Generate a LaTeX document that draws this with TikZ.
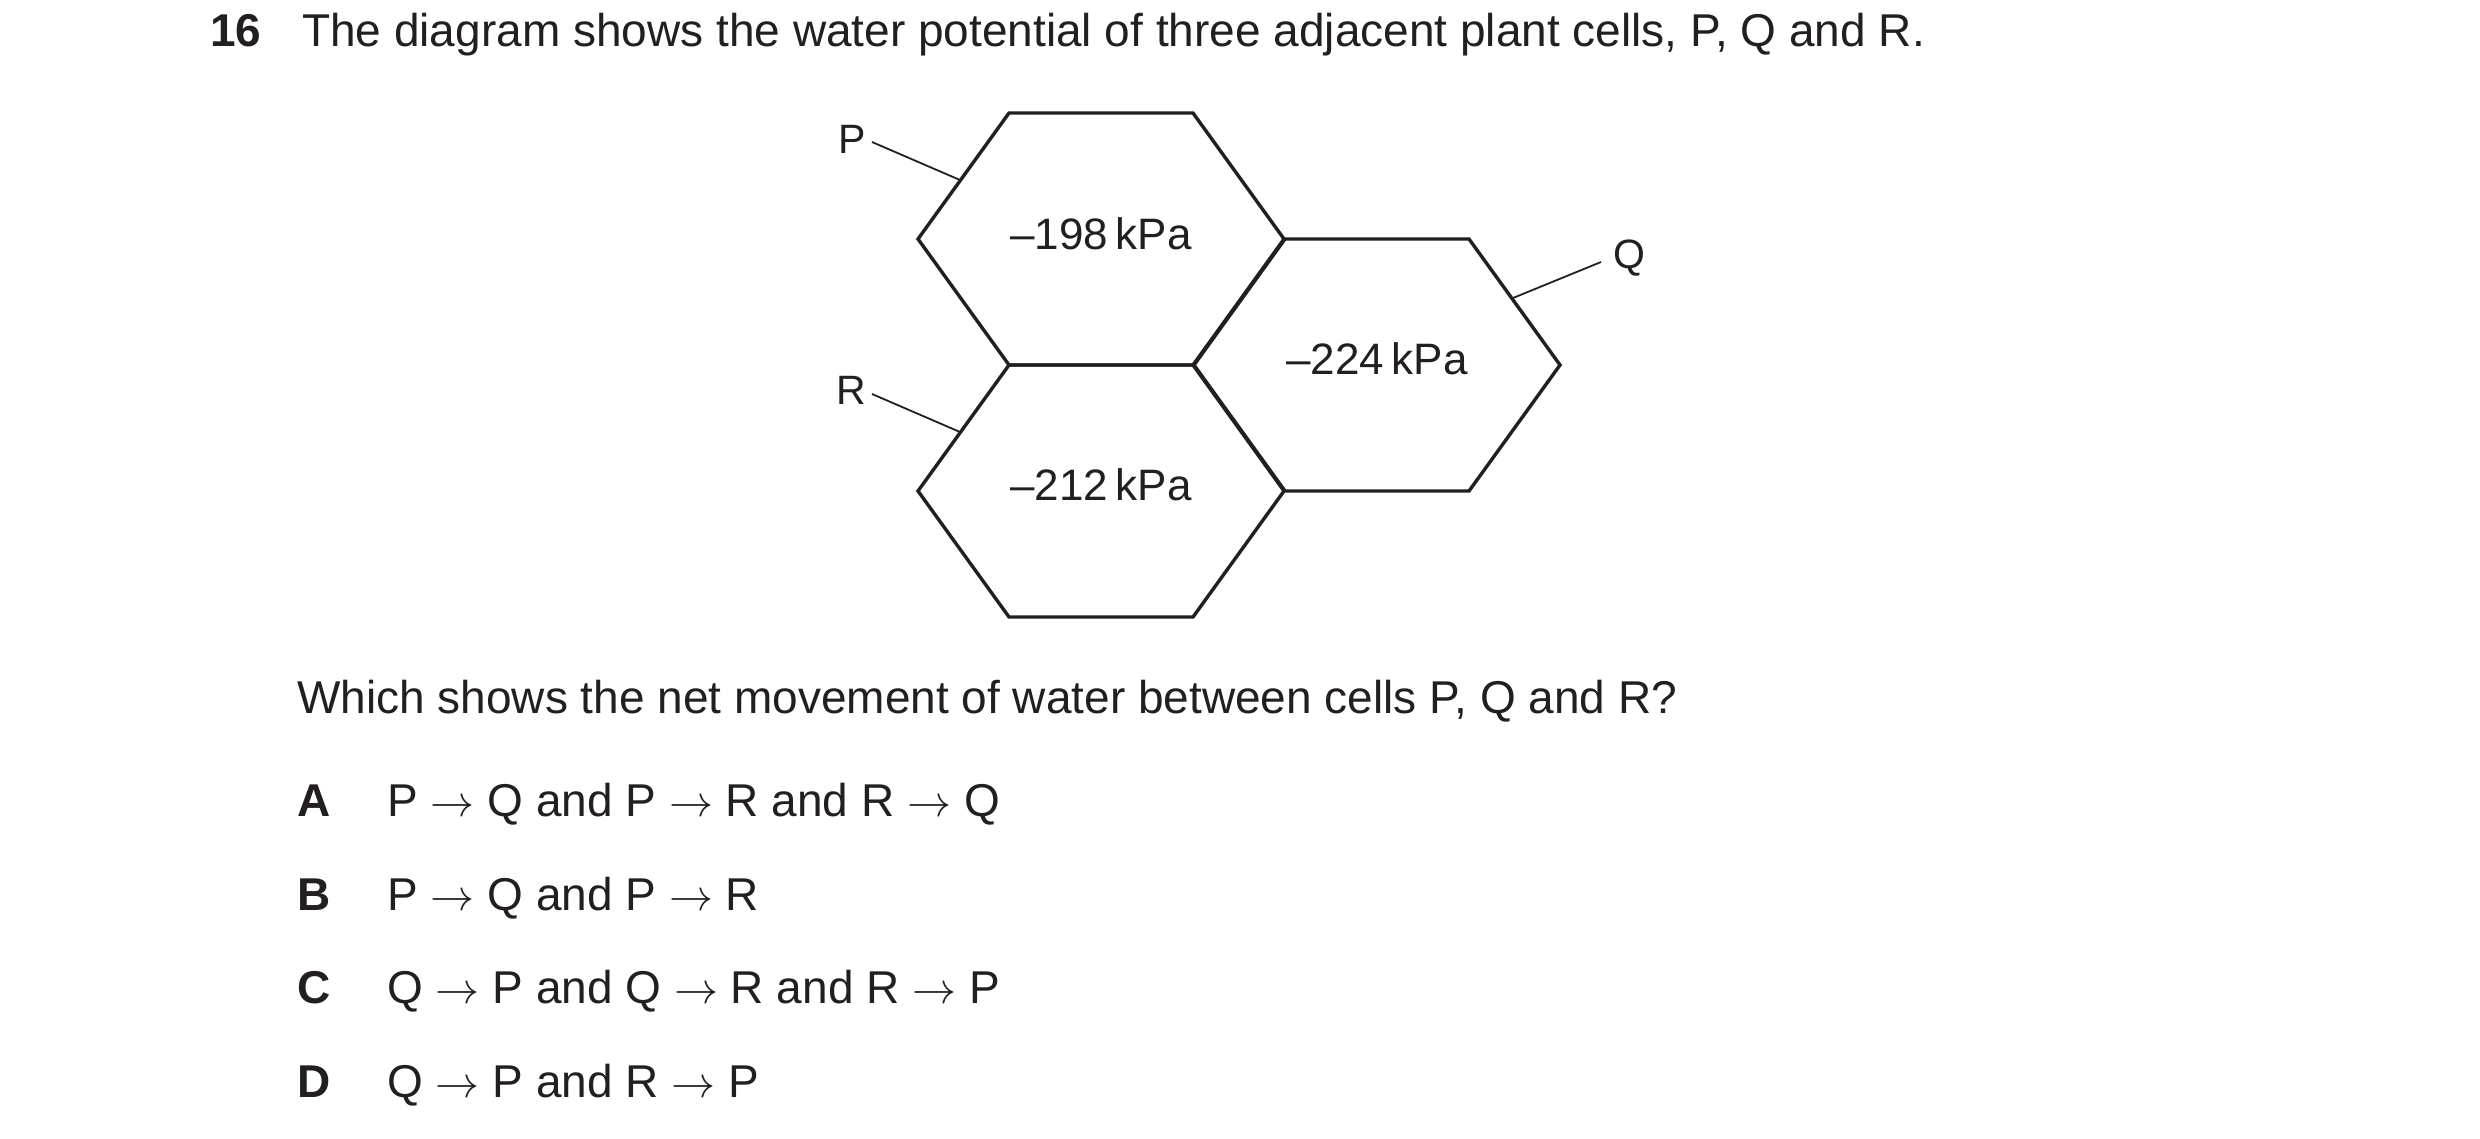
\documentclass[tikz,border=0pt]{standalone}
\usepackage{graphicx}
\usepackage{fontspec}
\setmainfont{Liberation Sans}
\definecolor{ink}{HTML}{231F20}
\newcommand\arr{\scalebox{1.77}{\fontsize{24.88}{30}\selectfont$\rightarrow$}}
\begin{document}
\begin{tikzpicture}[x=1pt,y=-1pt,
  txt/.style={anchor=base west,inner sep=0pt,text=ink,font=\fontsize{46}{55}\selectfont},
  key/.style={anchor=base west,inner sep=0pt,text=ink,font=\fontsize{46}{55}\selectfont\bfseries},
  lbl/.style={anchor=base west,inner sep=0pt,text=ink,font=\fontsize{41}{49}\selectfont},
  val/.style={inner sep=0pt,text=ink,font=\fontsize{44}{53}\selectfont},
  cell/.style={draw=ink,line width=3.4pt,line join=miter},
  leader/.style={draw=ink,line width=1.8pt}]
\useasboundingbox (0,0) rectangle (2480,1138);
\fill[white] (0,0) rectangle (2480,1138);
% title
\node[key] (num) at (210,46) {16};
\node[txt] (title) at (302,46) {The diagram shows the water potential of three adjacent plant cells, P, Q and R.};
% hexagonal cells
\newcommand\hexcell[2]{%
  \draw[cell] ({#1-183},{#2}) -- ({#1-92},{#2-126}) -- ({#1+92},{#2-126}) --
    ({#1+183},{#2}) -- ({#1+92},{#2+126}) -- ({#1-92},{#2+126}) -- cycle;}
\hexcell{1101}{239}
\hexcell{1377}{365}
\hexcell{1101}{491}
\node[val] (vP) at (1101,239) {\strut–198\,kPa};
\node[val] (vQ) at (1377,364) {\strut–224\,kPa};
\node[val] (vR) at (1101,490) {\strut–212\,kPa};
% labels
\node[lbl] (lP) at (838,153) {P};
\node[lbl] (lR) at (836,404) {R};
\node[lbl] (lQ) at (1613,268) {Q};
\coordinate (pa) at (872,142);
\coordinate (pb) at (960,180);
\coordinate (ra) at (872,394);
\coordinate (rb) at (960,432);
\coordinate (qa) at (1601,262);
\coordinate (qb) at (1513,298);
\draw[leader] (pa) -- (pb);
\draw[leader] (ra) -- (rb);
\draw[leader] (qa) -- (qb);
% question
\node[txt] (q) at (297,713) {Which shows the net movement of water between cells P, Q and R?};
\node[key] (kA) at (297,816) {A};
\node[txt] (oA) at (387,816) {P \arr{} Q and P \arr{} R and R \arr{} Q};
\node[key] (kB) at (297,910) {B};
\node[txt] (oB) at (387,910) {P \arr{} Q and P \arr{} R};
\node[key] (kC) at (297,1003) {C};
\node[txt] (oC) at (387,1003) {Q \arr{} P and Q \arr{} R and R \arr{} P};
\node[key] (kD) at (297,1097) {D};
\node[txt] (oD) at (387,1097) {Q \arr{} P and R \arr{} P};
\end{tikzpicture}
\end{document}
